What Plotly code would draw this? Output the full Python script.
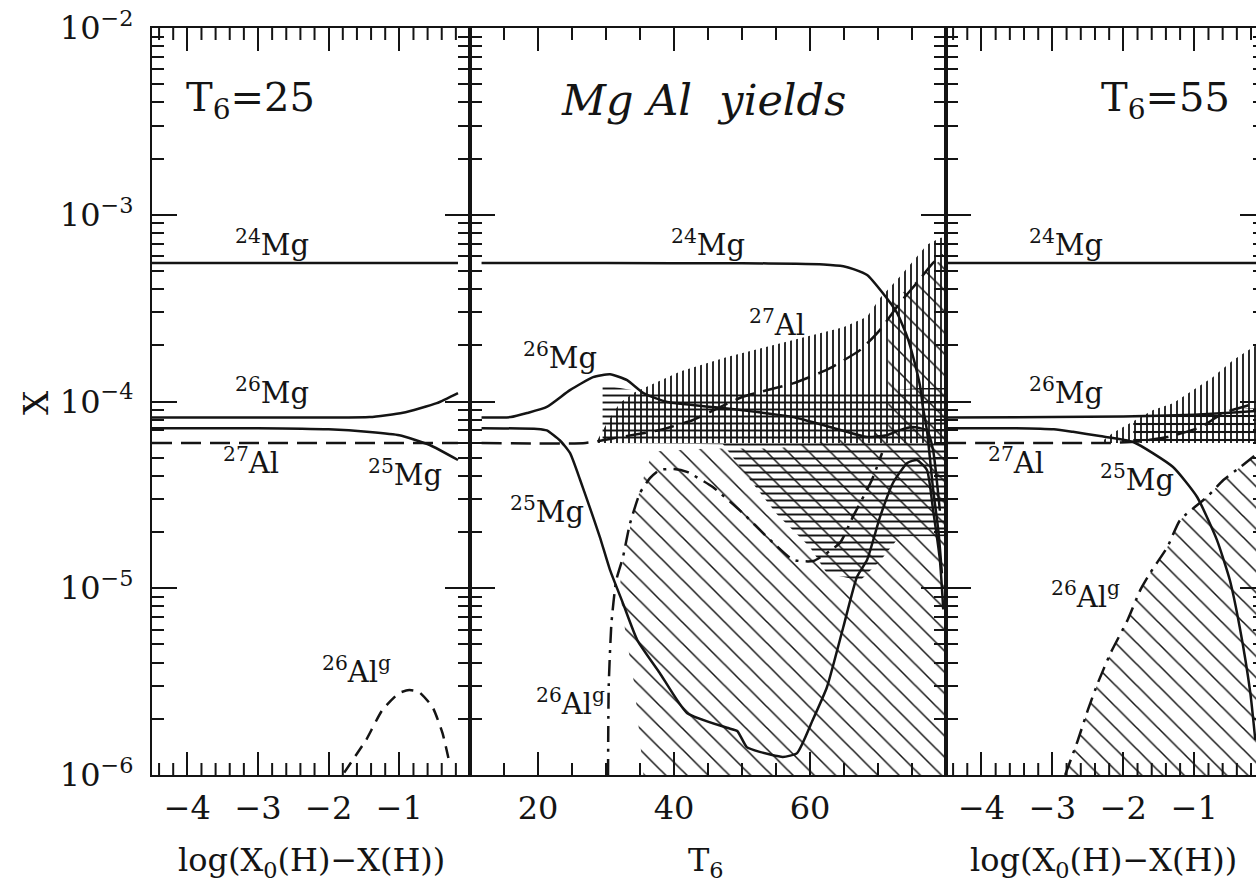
import plotly.graph_objects as go

FONT = "DejaVu Serif"
INK = "#141414"

# ---------------- data ----------------
# Left panel, T6 = 25 : abscissa log(X0(H) - X(H))
L_X24 = [-4.5, -0.17]
L_Y24 = [5.51e-4, 5.51e-4]
L_X26 = [-4.5, -2.0, -1.42, -0.95, -0.47, -0.17]
L_Y26 = [8.2e-5, 8.2e-5, 8.25e-5, 8.7e-5, 9.8e-5, 1.11e-4]
L_X25 = [-4.5, -3.0, -2.0, -1.42, -1.0, -0.57, -0.17]
L_Y25 = [7.2e-5, 7.2e-5, 7.1e-5, 6.87e-5, 6.6e-5, 5.85e-5, 4.86e-5]
L_X27 = [-4.5, -0.17]
L_Y27 = [6.0e-5, 6.0e-5]
L_X26AL = [-1.78, -1.6, -1.47, -1.24, -1.0, -0.86, -0.72, -0.53, -0.39, -0.29]
L_Y26AL = [1.03e-6, 1.3e-6, 1.54e-6, 2.23e-6, 2.75e-6, 2.85e-6, 2.78e-6, 2.31e-6, 1.68e-6, 1.16e-6]

# Middle panel: yields versus T6
M_T24 = [11.7, 30, 50, 58, 62, 64.9, 66.5, 68.4, 70.7, 72.8, 74.3, 75.4, 76.2, 76.6, 77.2, 78.1, 78.9, 79.4]
M_Y24 = [5.51e-4, 5.51e-4, 5.5e-4, 5.47e-4, 5.42e-4, 5.3e-4, 5.1e-4, 4.76e-4, 3.81e-4, 2.98e-4,
         2.22e-4, 1.61e-4, 1.2e-4, 9.35e-5, 7.0e-5, 3.4e-5, 2.0e-5, 1.2e-5]
M_T26 = [11.7, 16, 18.4, 21.3, 24.7, 28.1, 30.6, 33.1, 35.5, 39, 45.7, 52, 57.5, 63.4, 68.4,
         71.3, 73.2, 75.1, 77.2, 78.1, 79.1]
M_Y26 = [8.2e-5, 8.25e-5, 8.67e-5, 9.35e-5, 1.15e-4, 1.35e-4, 1.40e-4, 1.30e-4, 1.11e-4, 9.94e-5,
         9.35e-5, 8.8e-5, 8.26e-5, 7.22e-5, 6.45e-5, 6.6e-5, 7.03e-5, 7.3e-5, 7.0e-5, 5.5e-5, 2.6e-5]
M_T25 = [11.7, 19.9, 21.3, 23.2, 24.7, 26.2, 27.6, 29.1, 30.6, 32.5, 34.6, 37.9, 41.9, 47.8, 49.3,
         50.7, 52.6, 56.0, 58.1, 60.4, 62.5, 64.9, 66.9, 68.4, 70.3, 72.2, 74.3, 75.7, 77.2, 78.1,
         79.1, 79.6]
M_Y25 = [7.2e-5, 7.13e-5, 7.0e-5, 6.2e-5, 5.3e-5, 3.8e-5, 2.72e-5, 1.88e-5, 1.25e-5, 8.3e-6,
         5.28e-6, 3.52e-6, 2.15e-6, 1.79e-6, 1.72e-6, 1.41e-6, 1.33e-6, 1.25e-6, 1.31e-6, 1.97e-6,
         2.96e-6, 6.2e-6, 1.15e-5, 1.42e-5, 2.41e-5, 3.66e-5, 4.69e-5, 4.86e-5, 4.3e-5, 2.63e-5,
         1.42e-5, 7.7e-6]
M_T27 = [11.7, 27, 32.1, 37.9, 42.8, 50.1, 57.5, 62.5, 67.4, 70.3, 73.2, 75.7, 78.1, 79.6]
M_Y27 = [6.0e-5, 6.0e-5, 6.45e-5, 7.03e-5, 7.96e-5, 1.06e-4, 1.25e-4, 1.48e-4, 1.89e-4, 2.42e-4,
         3.37e-4, 4.31e-4, 5.52e-4, 6.09e-4]
M_T26AL = [30.3, 30.4, 30.8, 31.5, 32.5, 33.5, 35.0, 36.5, 37.9, 40.0, 41.9, 45.7, 50.1, 53.7,
           57.5, 60.5, 64.4, 66.3, 69.1, 70.6]
M_Y26AL = [1.0e-6, 3.0e-6, 6.5e-6, 1.1e-5, 1.47e-5, 2.2e-5, 3.24e-5, 3.9e-5, 4.3e-5, 4.35e-5,
           4.2e-5, 3.48e-5, 2.53e-5, 1.88e-5, 1.42e-5, 1.4e-5, 1.75e-5, 2.41e-5, 3.8e-5, 5.3e-5]

# Middle panel uncertainty bands (upper edge, lower edge)
M_AL_UP_T = [28.5, 30, 32, 34, 36, 41, 47.8, 57.5, 64.9, 68.4, 70.3, 73.2, 77.2, 79.1, 80]
M_AL_UP_Y = [6.0e-5, 7.5e-5, 9.8e-5, 1.11e-4, 1.2e-4, 1.45e-4, 1.73e-4, 2.13e-4, 2.5e-4, 2.84e-4,
             3.58e-4, 4.65e-4, 6.9e-4, 7.5e-4, 7.6e-4]
M_AL_LO_T = [28.5, 80]
M_AL_LO_Y = [6.0e-5, 6.0e-5]

M_MG_UP_T = [29.5, 31, 34, 40, 48, 58, 66, 72, 76, 80]
M_MG_UP_Y = [1.25e-4, 1.2e-4, 1.15e-4, 1.13e-4, 1.12e-4, 1.12e-4, 1.12e-4, 1.15e-4, 1.18e-4, 1.18e-4]
M_MG_LO_T = [29.5, 47.2, 51.2, 55.1, 60.0, 62.5, 67.4, 70.3, 73.2, 80]
M_MG_LO_Y = [6.0e-5, 5.9e-5, 3.8e-5, 2.5e-5, 1.66e-5, 1.2e-5, 1.1e-5, 1.4e-5, 1.9e-5, 1.9e-5]

M_ALG_T = [35.5, 34.2, 32.8, 32.0, 32.5, 34.0, 36.0, 37.0, 45.0, 55.0, 65.0, 71.5, 71.5, 75.0,
           78.0, 80.0, 80.0]
M_ALG_Y = [1.0e-6, 3.0e-6, 6.0e-6, 1.0e-5, 1.4e-5, 2.53e-5, 4.46e-5, 5.4e-5, 5.6e-5, 5.6e-5,
           6.3e-5, 7.0e-5, 3.3e-4, 4.2e-4, 5.3e-4, 6.0e-4, 1.0e-6]

# Right panel, T6 = 55
R_X24 = [-4.5, -0.13]
R_Y24 = [5.51e-4, 5.51e-4]
R_X26 = [-4.5, -2.0, -1.0, -0.5, -0.13]
R_Y26 = [8.2e-5, 8.3e-5, 8.5e-5, 8.7e-5, 8.9e-5]
R_X25 = [-4.5, -3.54, -2.98, -2.71, -2.33, -1.86, -1.30, -0.96, -0.68, -0.50, -0.36, -0.21, -0.14]
R_Y25 = [7.2e-5, 7.2e-5, 7.1e-5, 6.88e-5, 6.53e-5, 6.07e-5, 4.46e-5, 3.08e-5, 1.81e-5, 1.11e-5,
         6.2e-6, 2.75e-6, 1.54e-6]
R_X27 = [-4.5, -2.2, -1.8, -1.38, -0.91, -0.59, -0.13]
R_Y27 = [6.0e-5, 6.0e-5, 6.1e-5, 6.45e-5, 7.3e-5, 8.67e-5, 9.8e-5]
R_X26AL = [-2.82, -2.64, -2.5, -2.36, -2.18, -1.94, -1.76, -1.62, -1.38, -1.2, -0.82, -0.59, -0.35, -0.13]
R_Y26AL = [1.0e-6, 1.54e-6, 2.23e-6, 3.11e-6, 4.5e-6, 6.76e-6, 9.8e-6, 1.21e-5, 1.66e-5, 2.32e-5,
           3.08e-5, 3.8e-5, 4.46e-5, 5.2e-5]

R_AL_UP_X = [-2.33, -2.15, -1.58, -1.30, -1.02, -0.74, -0.45, -0.17, -0.13]
R_AL_UP_Y = [6.0e-5, 6.78e-5, 9.0e-5, 9.8e-5, 1.15e-4, 1.35e-4, 1.67e-4, 1.96e-4, 2.0e-4]
R_AL_LO_X = [-2.33, -0.13]
R_AL_LO_Y = [6.0e-5, 6.0e-5]
R_MG_UP_X = [-1.86, -1.0, -0.13]
R_MG_UP_Y = [8.6e-5, 8.9e-5, 9.2e-5]
R_MG_LO_X = [-1.86, -0.13]
R_MG_LO_Y = [6.0e-5, 6.0e-5]

# axis ticks
Y_TICKS = [1e-6, 1e-5, 1e-4, 1e-3, 1e-2]
Y_TEXT = ["10<sup>−6</sup>", "10<sup>−5</sup>", "10<sup>−4</sup>", "10<sup>−3</sup>", "10<sup>−2</sup>"]
Y_MINOR = [m * d for d in [1e-6, 1e-5, 1e-4, 1e-3] for m in range(2, 10)]
LOG_TICKS = [-4, -3, -2, -1]
LOG_TEXT = ["−4", "−3", "−2", "−1"]
LOG_MINOR = [-4.4, -4.2, -3.8, -3.6, -3.4, -3.2, -2.8, -2.6, -2.4, -2.2, -1.8, -1.6, -1.4, -1.2,
             -0.8, -0.6, -0.4, -0.2]
T_TICKS = [20, 40, 60]
T_TEXT = ["20", "40", "60"]
T_MINOR = [15, 25, 30, 35, 45, 50, 55, 65, 70, 75]

# ---------------- layout geometry (pixels) ----------------
W, H = 1256, 884
ML, MT, MB = 152, 28, 109
PW, PH = W - ML, H - MT - MB
EDGES = [152, 470, 946, 1256]
DOMS = [((a - ML) / PW, (b - ML) / PW) for a, b in zip(EDGES[:-1], EDGES[1:])]
X_RANGES = [[-4.5, 0], [10, 80], [-4.5, -0.13]]
MINOR_LEN = 12


def at(px, py):
    return (px - ML) / PW, (H - MB - py) / PH


fig = go.Figure()


def poly(xs, ys, shape, size, solidity, xa, ya):
    fig.add_trace(go.Scatter(
        x=xs, y=ys, xaxis=xa, yaxis=ya, mode="lines", fill="toself",
        line=dict(width=0, color="rgba(0,0,0,0)"), fillcolor="rgba(0,0,0,0)",
        fillpattern=dict(shape=shape, size=size, solidity=solidity, fgcolor=INK,
                         bgcolor="rgba(0,0,0,0)", fillmode="replace"),
        hoverinfo="skip", showlegend=False))


def band(xu, yu, xl, yl, shape, size, solidity, xa, ya):
    poly(list(xu) + list(xl)[::-1], list(yu) + list(yl)[::-1], shape, size, solidity, xa, ya)


def curve(x, y, xa, ya, dash="solid", width=2.5):
    fig.add_trace(go.Scatter(
        x=x, y=y, xaxis=xa, yaxis=ya, mode="lines",
        line=dict(color=INK, width=width, dash=dash, shape="spline", smoothing=0.5),
        hoverinfo="skip", showlegend=False))


DASH = "20px,9px"
DASH_S = "12px,8px"
DASHDOT = "16px,7px,3px,7px"

# hatched bands: middle panel
poly(M_ALG_T, M_ALG_Y, "\\", 15, 0.1, "x2", "y2")
band(M_MG_UP_T, M_MG_UP_Y, M_MG_LO_T, M_MG_LO_Y, "-", 7, 0.28, "x2", "y2")
band(M_AL_UP_T, M_AL_UP_Y, M_AL_LO_T, M_AL_LO_Y, "|", 6, 0.3, "x2", "y2")
# hatched bands: right panel
poly(R_X26AL + [R_X26AL[-1]], R_Y26AL + [1.0e-6], "\\", 15, 0.1, "x3", "y3")
band(R_MG_UP_X, R_MG_UP_Y, R_MG_LO_X, R_MG_LO_Y, "-", 8, 0.26, "x3", "y3")
band(R_AL_UP_X, R_AL_UP_Y, R_AL_LO_X, R_AL_LO_Y, "|", 6, 0.3, "x3", "y3")

# curves: left
curve(L_X24, L_Y24, "x", "y")
curve(L_X26, L_Y26, "x", "y")
curve(L_X25, L_Y25, "x", "y")
curve(L_X27, L_Y27, "x", "y", DASH)
curve(L_X26AL, L_Y26AL, "x", "y", DASH_S)
# curves: middle
curve(M_T24, M_Y24, "x2", "y2")
curve(M_T26, M_Y26, "x2", "y2")
curve(M_T25, M_Y25, "x2", "y2")
curve(M_T27, M_Y27, "x2", "y2", DASH)
curve(M_T26AL, M_Y26AL, "x2", "y2", DASHDOT)
# curves: right
curve(R_X24, R_Y24, "x3", "y3")
curve(R_X26, R_Y26, "x3", "y3")
curve(R_X25, R_Y25, "x3", "y3")
curve(R_X27, R_Y27, "x3", "y3", DASH)
curve(R_X26AL, R_Y26AL, "x3", "y3", DASHDOT)

# carrier for the right-edge tick stubs
fig.add_trace(go.Scatter(x=[-1], y=[1e-4], xaxis="x3", yaxis="y4", mode="markers",
                         marker=dict(opacity=0), hoverinfo="skip", showlegend=False))

frame = dict(showline=True, linecolor=INK, linewidth=2, ticks="inside", tickcolor=INK,
             tickwidth=2, showgrid=False, zeroline=False,
             tickfont=dict(family=FONT, size=32, color=INK))


def xaxis(dom, anchor, rng, tv, tt):
    return dict(frame, domain=dom, anchor=anchor, range=rng, tickmode="array", tickvals=tv,
                ticktext=tt, ticklen=23, mirror="ticks", ticklabelstandoff=4)


def yaxis(anchor, labels, mirror=True):
    return dict(frame, domain=[0, 1], anchor=anchor, type="log", range=[-6, -2],
                tickmode="array", tickvals=Y_TICKS, ticktext=Y_TEXT, ticklen=25,
                showticklabels=labels, mirror="ticks" if mirror else False,
                ticklabelstandoff=10,
                minor=dict(tickmode="array", tickvals=Y_MINOR, ticks="inside", ticklen=12,
                           tickwidth=2, tickcolor=INK, showgrid=False))


# short intermediate ticks along the bottom and top edges of each panel
shapes = []
dy = MINOR_LEN / PH
for xa, vals in (("x", LOG_MINOR), ("x2", T_MINOR), ("x3", LOG_MINOR)):
    for v in vals:
        for y0, y1 in ((0, dy), (1 - dy, 1)):
            shapes.append(dict(type="line", xref=xa, yref="paper", x0=v, x1=v, y0=y0, y1=y1,
                               line=dict(color=INK, width=2)))

annotations = []
LABELS = [
    ("T<sub>6</sub>=25", 250, 100, 40),
    ("<sup>24</sup>Mg", 272, 243, 29),
    ("<sup>26</sup>Mg", 272, 391, 29),
    ("<sup>27</sup>Al", 251, 461, 29),
    ("<sup>25</sup>Mg", 405, 473, 29),
    ("<sup>26</sup>Al<sup>g</sup>", 356, 670, 29),
    ("<i>Mg Al  yields</i>", 703, 100, 43),
    ("<sup>24</sup>Mg", 708, 243, 29),
    ("<sup>27</sup>Al", 777, 323, 29),
    ("<sup>26</sup>Mg", 560, 356, 29),
    ("<sup>25</sup>Mg", 547, 510, 29),
    ("<sup>26</sup>Al<sup>g</sup>", 570, 702, 29),
    ("T<sub>6</sub>=55", 1165, 100, 40),
    ("<sup>24</sup>Mg", 1066, 243, 29),
    ("<sup>26</sup>Mg", 1066, 391, 29),
    ("<sup>27</sup>Al", 1016, 461, 29),
    ("<sup>25</sup>Mg", 1137, 478, 29),
    ("<sup>26</sup>Al<sup>g</sup>", 1085, 595, 29),
    ("log(X<sub>0</sub>(H)−X(H))", 311, 862, 32),
    ("T<sub>6</sub>", 706, 862, 32),
    ("log(X<sub>0</sub>(H)−X(H))", 1103, 862, 32),
]
for text, px, py, size in LABELS:
    ax, ay = at(px, py)
    annotations.append(dict(text=text, x=ax, y=ay, xref="paper", yref="paper",
                            xanchor="center", yanchor="middle", showarrow=False,
                            font=dict(family=FONT, size=size, color=INK)))
ax, ay = at(36, 403)
annotations.append(dict(text="X", x=ax, y=ay, xref="paper", yref="paper", textangle=-90,
                        xanchor="center", yanchor="middle", showarrow=False,
                        font=dict(family=FONT, size=34, color=INK)))

fig.update_layout(
    width=W, height=H,
    margin=dict(l=ML, r=0, t=MT, b=MB, pad=0),
    paper_bgcolor="white", plot_bgcolor="white",
    showlegend=False,
    xaxis=xaxis(DOMS[0], "y", X_RANGES[0], LOG_TICKS, LOG_TEXT),
    xaxis2=xaxis(DOMS[1], "y2", X_RANGES[1], T_TICKS, T_TEXT),
    xaxis3=xaxis(DOMS[2], "y3", X_RANGES[2], LOG_TICKS, LOG_TEXT),
    yaxis=yaxis("x", True),
    yaxis2=yaxis("x2", False),
    yaxis3=yaxis("x3", False, mirror=False),
    yaxis4=dict(overlaying="y3", anchor="x3", side="right", type="log", range=[-6, -2],
                showline=False, showgrid=False, zeroline=False, showticklabels=False,
                ticks="inside", tickmode="array", tickvals=Y_TICKS, ticklen=16, tickwidth=2,
                tickcolor=INK,
                minor=dict(tickmode="array", tickvals=Y_MINOR, ticks="inside", ticklen=3,
                           tickwidth=2, tickcolor=INK, showgrid=False)),
    shapes=shapes,
    annotations=annotations,
)

fig.write_html("out.html")
